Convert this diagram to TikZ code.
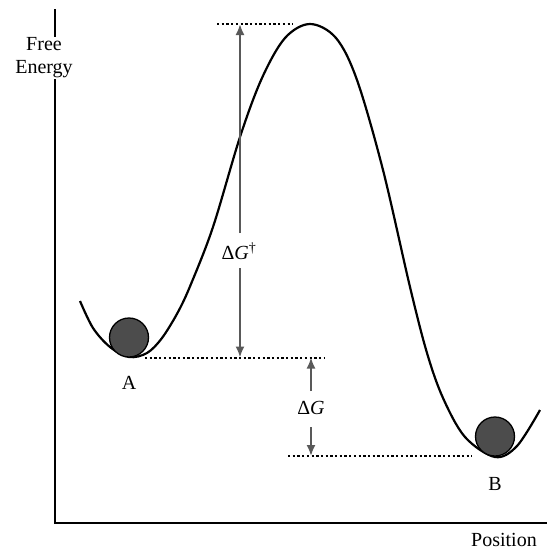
\documentclass[tikz,border=0pt]{standalone}
\usepackage{fontspec}
\setmainfont{Liberation Serif}
\usetikzlibrary{arrows.meta}
\begin{document}
\begin{tikzpicture}[x=1pt,y=-1pt,
  axis/.style={line width=1.4pt,black},
  curve/.style={line width=2.2pt,black},
  arr/.style={line width=2pt,draw=black!65,-{Latex[length=11pt,width=9pt]}},
  level/.style={line width=2pt,black,dash pattern=on 2.3pt off 2.4pt},
  ball/.style={circle,draw=black,line width=1.3pt,fill=black!70,minimum size=39pt,inner sep=0pt},
  lbl/.style={font=\fontsize{20}{23}\selectfont,inner sep=1pt}]
\useasboundingbox (0,0) rectangle (547,552);
% axes
\node[lbl,align=center] (ylab) at (44,58) {Free\\Energy};
\node[lbl] (xlab) at (504,540) {Position};
\coordinate (ytop) at (55,9);
\coordinate (origin) at (55,523);
\coordinate (xend) at (547,523);
\draw[axis] (ytop) -- (ylab.north -| ytop);
\draw[axis] (ylab.south -| ytop) -- (origin) -- (xend);
% energy curve
\draw[curve] plot[smooth,tension=0.55] coordinates {
 (80,301) (93,328) (110,347) (129,357) (147,353) (162,338) (178,312) (191,284)
 (213,227) (240,137) (262,78) (285,38) (310,24) (336,38) (357,80)
 (383,170) (410,287) (427,353) (443,398) (465,437) (495,457)
 (517,446) (540,410)};
% balls
\node[ball] (ballA) at (129,337.5) {};
\node[ball] (ballB) at (495,436.5) {};
\node[lbl] (A) at (129,383) {A};
\node[lbl] (B) at (495,484) {B};
% levels
\coordinate (topL) at (217,24);
\coordinate (topR) at (293,24);
\coordinate (midL) at (145,357.5);
\coordinate (midR) at (325,357.5);
\coordinate (lowL) at (288,456);
\coordinate (lowR) at (472,456);
\draw[level] (topL) -- (topR);
\draw[level] (midL) -- (midR);
\draw[level] (lowL) -- (lowR);
% Delta G dagger
\node[lbl] (dgd) at (239,251) {Δ\textit{G}\textsuperscript{†}};
\coordinate (dgdtop) at (240,24);
\coordinate (dgdbot) at (240,357.5);
\draw[arr] (240,233) -- (dgdtop);
\draw[arr] (240,268) -- (dgdbot);
% Delta G
\node[lbl] (dg) at (311,408) {Δ\textit{G}};
\coordinate (dgtop) at (311,357.5);
\coordinate (dgbot) at (311,456);
\draw[arr] (311,391) -- (dgtop);
\draw[arr] (311,427) -- (dgbot);
\end{tikzpicture}
\end{document}
